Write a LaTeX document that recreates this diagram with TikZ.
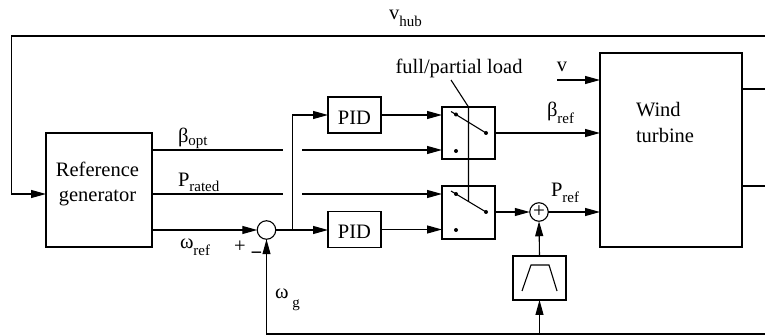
\documentclass[tikz,border=0pt]{standalone}
\usepackage{fontspec}
\setmainfont{Liberation Serif}
\usetikzlibrary{arrows.meta,calc}
\newcommand{\sbs}[2][7pt]{\raisebox{-#1}{\fontsize{15}{15}\selectfont #2}}
\begin{document}
\begin{tikzpicture}[x=1pt,y=-1pt,
  every node/.style={font=\fontsize{20.5}{25}\selectfont, inner sep=0pt, outer sep=0pt},
  ln/.style={line width=1.1pt, line join=miter},
  arr/.style={ln, -{Triangle[length=15pt,width=8pt]}},
  box/.style={draw, line width=1.1pt},
  sumc/.style={draw, circle, line width=1.1pt, minimum size=18.5pt},
  dot/.style={circle, fill, minimum size=4pt},
  txt/.style={anchor=base},
  txl/.style={anchor=base west}]
\useasboundingbox (0,0) rectangle (765,336);

% blocks
\node[box, minimum width=106pt, minimum height=114pt] (refgen) at (99,190) {};
\node[txt] (rgA) at (97.5,177) {Reference};
\node[txt] (rgB) at (97.5,202) {generator};
\node[box, minimum width=53pt, minimum height=36pt] (pid1) at (354.5,115) {};
\node[txt] (pid1t) at (354.5,124.5) {PID};
\node[box, minimum width=53pt, minimum height=36pt] (pid2) at (354.5,229.5) {};
\node[txt] (pid2t) at (354.5,239) {PID};
\node[box, minimum width=53pt, minimum height=52pt] (sw1) at (468.5,133) {};
\node[box, minimum width=53pt, minimum height=53pt] (sw2) at (468.5,212.5) {};
\node[box, minimum width=142pt, minimum height=194pt] (wt) at (671,150) {};
\node[txl] (wtA) at (636,116.5) {Wind};
\node[txl] (wtB) at (636,142.5) {turbine};
\node[sumc] (s1) at (266.5,230) {};
\node[sumc, font=\fontsize{21}{21}\selectfont] (s2) at (539,212) {+};
\node[box, minimum width=53pt, minimum height=44pt] (filt) at (539.5,278) {};
\draw[ln] ($(filt.center)+(-17.5,13)$) -- ++(9,-26) -- ++(18,0) -- ++(8,26);

% switch contacts
\node[dot] (d1a) at (456,114.5) {};
\node[dot] (d1b) at (456,151) {};
\node[dot] (d1c) at (486,133) {};
\node[dot] (d2a) at (456,194) {};
\node[dot] (d2b) at (456,230) {};
\node[dot] (d2c) at (486,212) {};
\draw[ln] ($(d1a.center)+(-5,-3)$) -- (d1c.center);
\draw[ln] ($(d2a.center)+(-5,-3)$) -- (d2c.center);
\coordinate (lk) at (451,80);
\coordinate (blade2) at (468.5,201.5);
\draw[ln] (lk) -- (sw1.north) -- (blade2);
\node[txt] (fpl) at (459,74) {full/partial load};

% coordinates for free ends
\coordinate (gapL1) at (283,150);
\coordinate (gapR1) at (302,150);
\coordinate (gapL2) at (283,194);
\coordinate (gapR2) at (302,194);
\coordinate (brn) at (292.7,230);
\coordinate (vin) at (557,80);
\coordinate (o1) at (765,89);
\coordinate (o2) at (765,186);
\coordinate (tr) at (765,36);
\coordinate (tl) at (11.7,36);
\coordinate (bot) at (765,334);

% connectors
\draw[arr] (refgen.east |- s1) -- (s1.west);
\draw[arr] (s1.east) -- (s1.east -| pid2.west);
\draw[arr] (brn) |- (pid1.west);
\draw[ln] (refgen.east |- gapL1) -- (gapL1);
\draw[arr] (gapR1) -- (gapR1 -| sw1.west);
\draw[ln] (refgen.east |- gapL2) -- (gapL2);
\draw[arr] (gapR2) -- (gapR2 -| sw2.west);
\draw[arr] (pid1.east) -- (pid1.east -| sw1.west);
\draw[arr] (pid2.east) -- (pid2.east -| sw2.west);
\draw[arr] (sw1.east) -- (sw1.east -| wt.west);
\draw[arr] (sw2.east |- s2) -- (s2.west);
\draw[arr] (s2.east) -- (s2.east -| wt.west);
\draw[arr] (filt.north) -- (s2.south);
\draw[arr] (vin) -- (vin -| wt.west);
\draw[ln] (o1 -| wt.east) -- (o1);
\draw[ln] (o2 -| wt.east) -- (o2);
\draw[arr] (tr) -- (tl) |- ($(refgen.west)+(0,4)$);
\draw[arr] (bot) -- (bot -| s1) -- (s1.south);
\draw[arr] (filt.south |- bot) -- (filt.south);

% labels
\node[txl] (lvhub) at (389,20) {v\sbs{hub}};
\node[txl] (lbopt) at (178,143) {β\sbs[3pt]{opt}};
\node[txl] (lprat) at (178,187) {P\sbs[5pt]{rated}};
\node[txl] (lwref) at (180,249) {ω\sbs{ref}};
\node (lplus) at (240,247) {+};
\node (lminus) at (256.5,256) {\bfseries −};
\node[txl] (lwg) at (275,299) {ω\hspace{4pt}\sbs[9pt]{g}};
\node[txl] (lbref) at (547,117) {β\sbs{ref}};
\node[txt] (lv) at (562,72) {v};
\node[txl] (lpref) at (551,197) {P\sbs[6pt]{ref}};
\end{tikzpicture}
\end{document}
